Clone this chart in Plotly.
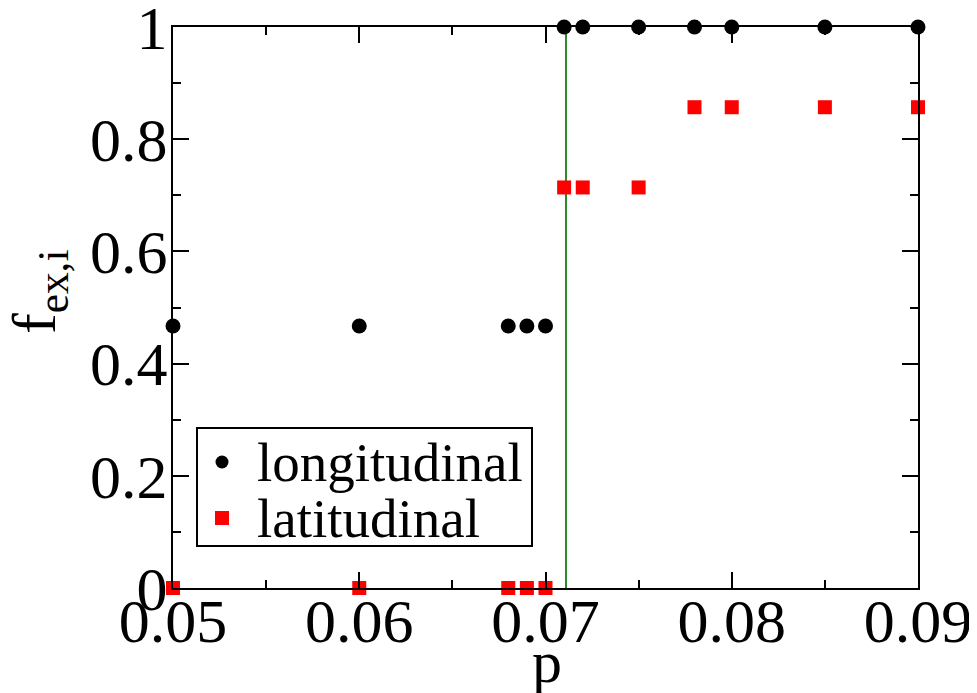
import plotly.graph_objects as go

p_vals = [0.05, 0.06, 0.068, 0.069, 0.07, 0.071, 0.072, 0.075, 0.078, 0.08, 0.085, 0.09]
longitudinal = [0.467, 0.467, 0.467, 0.467, 0.467, 1, 1, 1, 1, 1, 1, 1]
latitudinal = [0, 0, 0, 0, 0, 0.714, 0.714, 0.714, 0.857, 0.857, 0.857, 0.857]
p_critical = 0.0711

x_ticks = [0.05, 0.06, 0.07, 0.08, 0.09]
x_ticklabels = ["0.05", "0.06", "0.07", "0.08", "0.09"]
y_ticks = [0, 0.2, 0.4, 0.6, 0.8, 1]
y_ticklabels = ["0", "0.2", "0.4", "0.6", "0.8", "1"]
series_names = ["longitudinal", "latitudinal"]
x_title = "p"
y_title = "f<sub>ex,i</sub>"

font_family = "Liberation Serif, Times New Roman, serif"

# plot area geometry (pixels)
W, H = 969, 685
ML, MR, MT, MB = 165, 59, 19, 105
PW, PH = W - ML - MR, H - MT - MB

fig = go.Figure()
fig.add_trace(go.Scatter(
    x=p_vals, y=longitudinal, mode="markers", name=series_names[0],
    marker=dict(symbol="circle", size=15, color="black"), cliponaxis=False, showlegend=False))
fig.add_trace(go.Scatter(
    x=p_vals, y=latitudinal, mode="markers", name=series_names[1],
    marker=dict(symbol="square", size=14, color="#ff0000"), cliponaxis=False, showlegend=False))

fig.add_shape(type="line", xref="x", yref="y", x0=p_critical, x1=p_critical, y0=0, y1=1,
              line=dict(color="#2a8a2a", width=2), layer="below")

def px(xp):
    return xp / PW
def py(yp):
    return 1 - yp / PH

# legend box
fig.add_shape(type="rect", xref="paper", yref="paper",
              x0=px(24), x1=px(359), y0=py(519), y1=py(401),
              line=dict(color="black", width=2), fillcolor="white", layer="above")
fig.add_shape(type="circle", xref="paper", yref="paper",
              x0=px(49 - 6.5), x1=px(49 + 6.5), y0=py(435 + 6.5), y1=py(435 - 6.5),
              line=dict(color="black", width=0), fillcolor="black", layer="above")
fig.add_shape(type="rect", xref="paper", yref="paper",
              x0=px(49 - 7), x1=px(49 + 7), y0=py(491 + 7), y1=py(491 - 7),
              line=dict(color="#ff0000", width=0), fillcolor="#ff0000", layer="above")
for name, yc in zip(series_names, [435, 491]):
    fig.add_annotation(text=name, xref="paper", yref="paper", x=px(82), y=py(yc),
                       xanchor="left", yanchor="middle", showarrow=False,
                       font=dict(family=font_family, size=55, color="black"))

# axis titles as annotations
fig.add_annotation(text=y_title, xref="paper", yref="paper", x=px(-135), y=py(265),
                   xanchor="center", yanchor="middle", textangle=-90, showarrow=False,
                   font=dict(family=font_family, size=62, color="black"))
fig.add_annotation(text=x_title, xref="paper", yref="paper", x=px(374), y=py(600),
                   xanchor="center", yanchor="top", showarrow=False,
                   font=dict(family=font_family, size=60, color="black"))

axis_common = dict(
    showgrid=False, zeroline=False, showline=True, linecolor="black", linewidth=2,
    mirror="ticks", ticks="inside", ticklen=16, tickwidth=2, tickcolor="black",
    tickfont=dict(family=font_family, size=62, color="black"),
    automargin=False, ticklabeloverflow="allow",
)

fig.update_xaxes(range=[0.05, 0.09], tickvals=x_ticks, ticktext=x_ticklabels,
                 minor=dict(ticks="inside", ticklen=8, tickwidth=2, tickcolor="black", dtick=0.005),
                 ticklabelstandoff=-22, **axis_common)
fig.update_yaxes(range=[0, 1], tickvals=y_ticks, ticktext=y_ticklabels,
                 minor=dict(ticks="inside", ticklen=8, tickwidth=2, tickcolor="black", dtick=0.1),
                 ticklabelstandoff=-9, **axis_common)

fig.update_layout(
    width=W, height=H,
    margin=dict(l=ML, r=MR, t=MT, b=MB),
    plot_bgcolor="white", paper_bgcolor="white",
    font=dict(family=font_family, color="black"),
    showlegend=False,
)

fig.write_html("out.html")
